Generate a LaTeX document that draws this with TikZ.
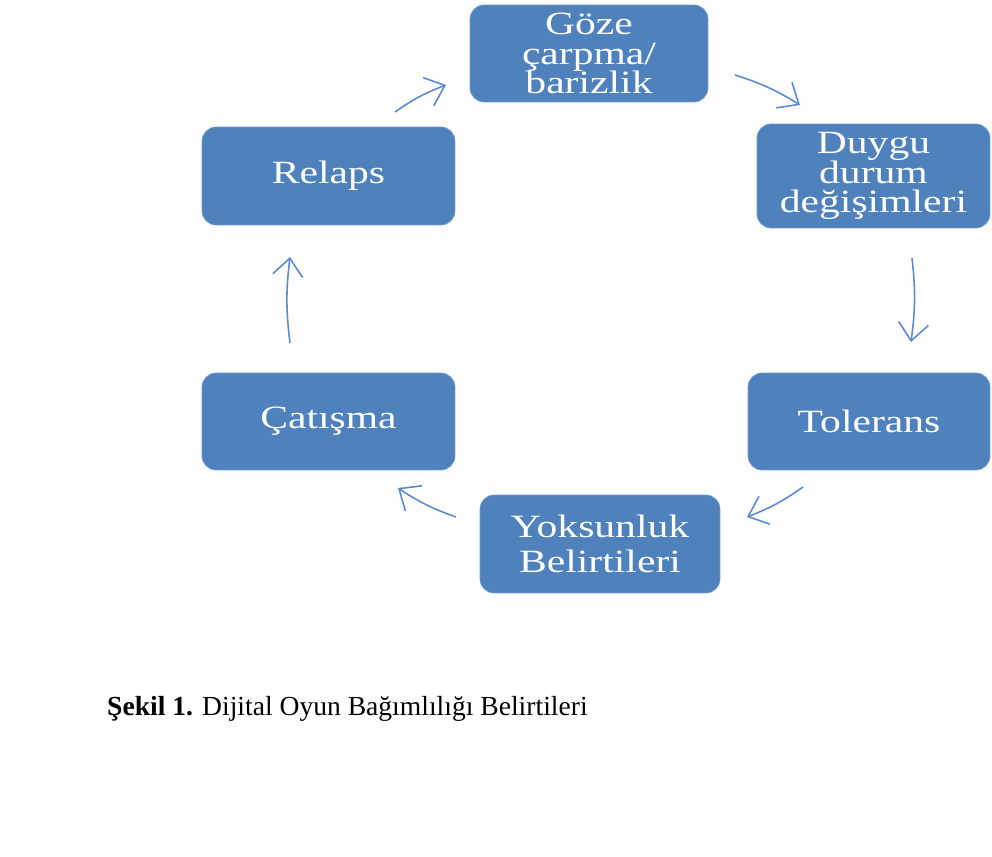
\documentclass[tikz,border=0pt]{standalone}
\usepackage{fontspec}
\setmainfont{Liberation Serif}
\newfontfamily\kutufont[FakeStretch=1.28]{Liberation Serif}
\usetikzlibrary{arrows.meta}
\definecolor{kutumavi}{HTML}{4F81BD}
\definecolor{okmavi}{HTML}{5A8AD2}
\begin{document}
\begin{tikzpicture}[x=0.02cm,y=-0.02cm,
  kutu/.style={fill=kutumavi,draw=kutumavi!80!white,rounded corners=8pt,text=white,
    align=center,inner sep=0pt,font=\kutufont\fontsize{18.5}{17}\selectfont},
  ok/.style={-{Straight Barb[length=3.5mm,width=6mm]},okmavi,line width=0.9pt,bend left=7}]
  \useasboundingbox (0,0) rectangle (992,857);
  % kutular
  \node[kutu,minimum width=4.76cm,minimum height=1.94cm] (goze) at (589,53.5) {Göze\\çarpma/\\barizlik};
  \node[kutu,minimum width=4.66cm,minimum height=2.08cm] (duygu) at (873.5,176) {Duygu\\durum\\değişimleri};
  \node[kutu,minimum width=4.84cm,minimum height=1.94cm] (tolerans) at (869,421.5) {Tolerans};
  \node[kutu,minimum width=4.8cm,minimum height=1.96cm,
    font=\kutufont\fontsize{18.5}{20}\selectfont] (yoksunluk) at (600,544) {Yoksunluk\\Belirtileri};
  \node[kutu,minimum width=5.06cm,minimum height=1.94cm] (catisma) at (328.5,421.5) {Çatışma};
  \node[kutu,minimum width=5.06cm,minimum height=1.96cm] (relaps) at (328.5,176) {Relaps};
  % ok uçları
  \coordinate (r-g) at (395,112);   \coordinate (g-r) at (446,85);
  \coordinate (g-d) at (735,75);    \coordinate (d-g) at (800,105);
  \coordinate (d-t) at (912,258);   \coordinate (t-d) at (911,342);
  \coordinate (t-y) at (803,487);   \coordinate (y-t) at (747,517);
  \coordinate (y-c) at (456,517);   \coordinate (c-y) at (398,488);
  \coordinate (c-r) at (290,343);   \coordinate (r-c) at (290,257);
  % oklar
  \draw[ok] (r-g) to (g-r);
  \draw[ok] (g-d) to (d-g);
  \draw[ok] (d-t) to (t-d);
  \draw[ok] (t-y) to (y-t);
  \draw[ok] (y-c) to (c-y);
  \draw[ok] (c-r) to (r-c);
  % şekil yazısı
  \node[anchor=base west,font=\fontsize{15.7}{19}\selectfont] (sekil) at (101,716)
    {\textbf{Şekil 1.} Dijital Oyun Bağımlılığı Belirtileri};
\end{tikzpicture}
\end{document}
